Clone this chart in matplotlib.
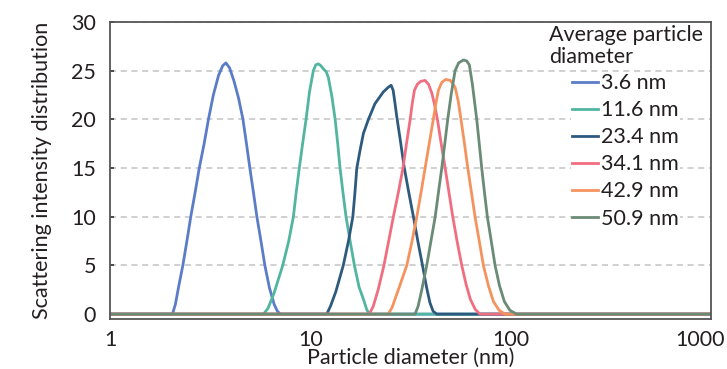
import matplotlib
matplotlib.use('Agg')
import matplotlib.pyplot as plt
from matplotlib.transforms import ScaledTranslation

plt.rcParams['font.family'] = ['Lato', 'DejaVu Sans']

# particle size distributions (diameter in nm, intensity)
d_36 = [1, 2.05, 2.12, 2.2, 2.31, 2.42, 2.53, 2.66, 2.79, 2.95, 3.10, 3.28, 3.48, 3.65, 3.79,
        3.95, 4.15, 4.38, 4.61, 4.80, 4.99, 5.2, 5.41, 5.67, 5.93, 6.25, 6.6, 6.85, 7.08, 1000]
v_36 = [0, 0, 1.0, 2.8, 5, 7.5, 10, 12.5, 15, 17.5, 20, 22.5, 24.5, 25.5, 25.8,
        25.3, 24.0, 22.2, 20, 17.5, 15, 12.5, 10, 7.5, 5, 2.7, 1.0, 0.3, 0, 0]

d_116 = [1, 5.83, 6.15, 6.6, 7.28, 7.8, 8.23, 8.5, 8.81, 9.15, 9.52, 9.9, 10.35, 10.65, 10.96,
         11.3, 11.6, 12.0, 12.3, 12.8, 13.3, 13.7, 14.07, 14.55, 15.07, 15.8, 16.6, 17.5, 18.5,
         19.1, 19.7, 1000]
v_116 = [0, 0, 0.6, 2.2, 5, 7.5, 10, 12.5, 15, 17.5, 20, 22.8, 25, 25.6, 25.7,
         25.5, 25.2, 24.9, 24.3, 22.4, 20, 17.5, 15, 12.5, 10, 7.5, 5, 2.8, 1.4,
         0.5, 0, 0]

d_234 = [1, 12.07, 12.6, 13.4, 14.6, 15.5, 16.3, 16.7, 17.06, 17.7, 18.4, 19.5, 21.0, 23.1, 24.5,
         25.3, 25.9, 26.4, 27.0, 28.2, 29.4, 31.0, 32.7, 34.4, 36.3, 38.0, 39.5, 41.0, 42.8, 1000]
v_234 = [0, 0, 0.8, 2.3, 5, 7.5, 10, 12.5, 15, 16.8, 18.55, 20, 21.6, 22.8, 23.3,
         23.5, 23.0, 21.8, 20.3, 17.7, 15.1, 12.5, 10, 7.5, 5, 2.8, 1.2, 0.3, 0, 0]

d_341 = [1, 19.7, 20.6, 21.8, 23.3, 24.6, 25.97, 27.5, 29.0, 30.2, 31.5, 32.3, 33.1, 34.2, 35.5,
         37.4, 38.9, 40.4, 41.6, 43.1, 45.0, 47.1, 49.2, 51.4, 54.0, 57.0, 60.0, 63.0, 66.5, 70.3, 1000]
v_341 = [0, 0, 0.8, 2.5, 5, 7.5, 10, 12.5, 15, 17.5, 20, 21.7, 23.0, 23.6, 23.9,
         24.0, 23.6, 22.7, 21.6, 20, 17.5, 15, 12.5, 10, 7.5, 5, 3.0, 1.5, 0.5, 0, 0]

d_429 = [1, 24.5, 25.6, 27.5, 30.3, 32.2, 34.0, 35.7, 37.4, 39.2, 41.1, 42.3, 43.6, 45.3, 47.4,
         50.0, 52.8, 54.7, 56.5, 58.8, 61.1, 63.7, 66.4, 69.7, 73.1, 77.5, 82.0, 87.5, 93.8, 1000]
v_429 = [0, 0, 0.7, 2.5, 5, 7.5, 10, 12.5, 15, 17.5, 20, 21.6, 23.0, 23.8, 24.1,
         24.0, 23.3, 21.9, 20, 17.5, 15, 12.5, 10, 7.5, 5, 2.9, 1.3, 0.4, 0, 0]

d_509 = [1, 33.3, 34.5, 36.0, 38.1, 40.0, 42.0, 43.6, 45.3, 46.9, 48.5, 50.5, 52.8, 55.0, 58.1,
         60.3, 62.2, 64.5, 67.7, 69.7, 71.7, 74.0, 76.5, 80.0, 83.6, 88.0, 93.0, 99.0, 107, 1000]
v_509 = [0, 0, 0.8, 2.5, 5, 7.5, 10, 12.5, 15, 17.5, 20, 22.6, 25, 25.8, 26.1,
         26.0, 25.6, 23.5, 20, 17.5, 15, 12.5, 10, 7.5, 5, 2.9, 1.3, 0.4, 0, 0]

labels = ['3.6 nm', '11.6 nm', '23.4 nm', '34.1 nm', '42.9 nm', '50.9 nm']
colors = ['#5b7cc7', '#52b5a0', '#2e5a7e', '#f06e80', '#f5935f', '#6a8b75']
series = [(d_36, v_36), (d_116, v_116), (d_234, v_234),
          (d_341, v_341), (d_429, v_429), (d_509, v_509)]

xticks = [1, 10, 100, 1000]
xticklabels = ['1', '10', '100', '1000']
yticks = [0, 5, 10, 15, 20, 25, 30]

W, H = 727, 369
fig = plt.figure(figsize=(W/100, H/100), dpi=100)
# axes box in pixels: left 110, right 711, top 22, bottom 319
ax = fig.add_axes([110/W, 1-319/H, (711-110)/W, (319-22)/H])

txtcol = '#231f20'
fs = 15.5
for (d, v), c, lab in zip(series, colors, labels):
    ax.plot(d, v, color=c, lw=2.0, label=lab, solid_joinstyle='round')

ax.set_xscale('log')
ax.set_xlim(1, 1000)
ax.set_ylim(-0.5, 30)
ax.set_xticks(xticks)
ax.set_xticklabels(xticklabels)
ax.minorticks_off()
ax.set_yticks(yticks)
ax.yaxis.grid(True, color='#c4c4c4', linestyle=(0, (4, 3)), lw=1.1)
ax.set_axisbelow(True)

ax.tick_params(axis='x', length=0, pad=8, labelsize=fs, labelcolor=txtcol)
ax.tick_params(axis='y', direction='in', length=3, width=1.2, color='#333333',
               pad=10, labelsize=fs, labelcolor=txtcol)
# last x label: keep it inside the figure edge
lab1000 = ax.get_xticklabels()[-1]
lab1000.set_horizontalalignment('right')
lab1000.set_transform(lab1000.get_transform() + ScaledTranslation(0.14, 0, fig.dpi_scale_trans))
for s in ax.spines.values():
    s.set_color('#555555')
    s.set_linewidth(1.3)

ax.set_xlabel('Particle diameter (nm)', fontsize=fs, color=txtcol, labelpad=-1.5)
ax.set_ylabel('Scattering intensity distribution', fontsize=fs, color=txtcol, labelpad=14)

# legend with separate title text
leg = ax.legend(loc='upper left', bbox_to_anchor=(571/W, 1-72/H), bbox_transform=fig.transFigure,
                fontsize=fs, handlelength=1.2, handletextpad=0.15, labelspacing=0.33,
                borderpad=0.05, borderaxespad=0, frameon=True, fancybox=False)
leg.get_frame().set_facecolor('white')
leg.get_frame().set_edgecolor('none')
leg.get_frame().set_alpha(1)
for t in leg.get_texts():
    t.set_color(txtcol)
for h in leg.get_lines():
    h.set_linewidth(2.0)

ax.text(549/W, 1-25/H, 'Average particle\ndiameter', transform=fig.transFigure,
        ha='left', va='top', fontsize=fs, color=txtcol, linespacing=1.1,
        bbox=dict(facecolor='white', edgecolor='none', pad=1))

fig.savefig('out.png', dpi=100)
